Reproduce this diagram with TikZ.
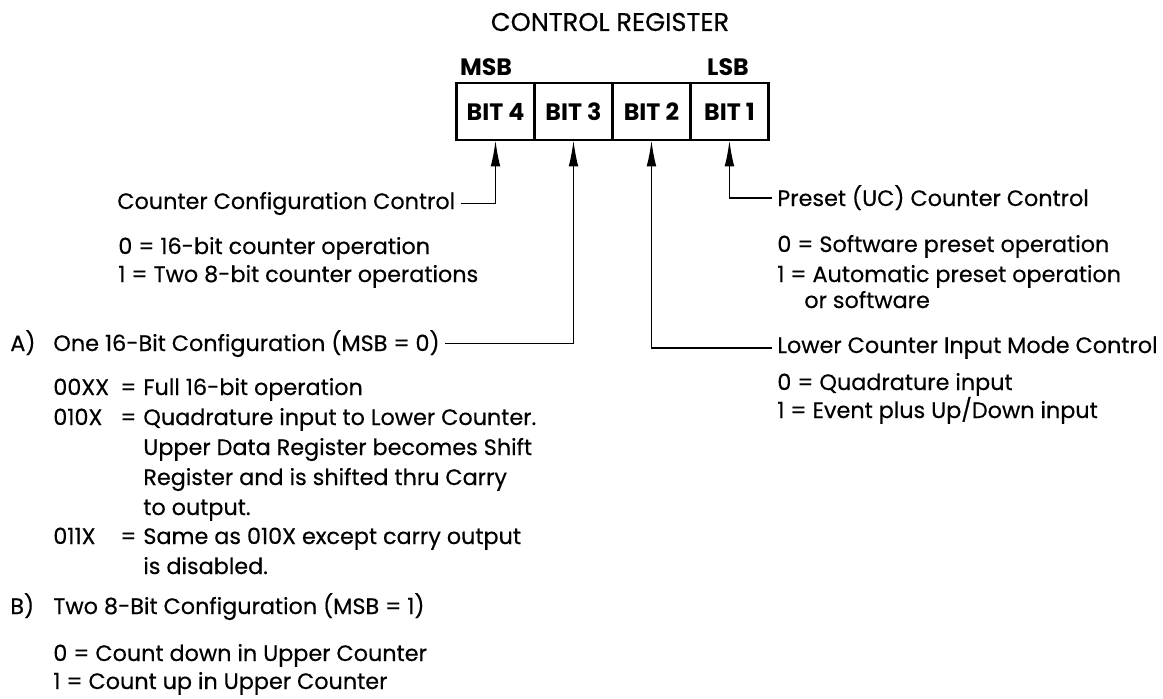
\documentclass[tikz,border=0pt]{standalone}
\usepackage{fontspec}
\setmainfont{Poppins}[UprightFeatures={FakeBold=0.4}]
\usetikzlibrary{arrows.meta,positioning}

\newcommand\regfont{\fontsize{12.7pt}{15pt}\selectfont}
\newcommand\headfont{\fontsize{14.6pt}{17pt}\selectfont}
\newcommand\bitfont{\fontsize{13.5pt}{16pt}\selectfont\bfseries}

\begin{document}
\begin{tikzpicture}[x=0.02cm,y=-0.02cm,node distance=0pt,
    txt/.style={anchor=base west,inner sep=0pt,font=\regfont},
    bitbox/.style={draw,line width=1.2pt,outer sep=0pt,minimum width=1.56cm,
      minimum height=1.14cm,font=\bitfont},
    arr/.style={line width=1pt,-{Latex[length=15pt,width=5.5pt]}}]
    \useasboundingbox (0,0) rectangle (1163,698);

    % register
    \node[font=\headfont] (title) at (610,22) {CONTROL REGISTER};
    \node[bitbox] (b4) at (495.5,111.5) {BIT 4};
    \node[bitbox,right=of b4] (b3) {BIT 3};
    \node[bitbox,right=of b3] (b2) {BIT 2};
    \node[bitbox,right=of b2] (b1) {BIT 1};
    \node[font=\bitfont] (msb) at (486,67) {MSB};
    \node[font=\bitfont] (lsb) at (728,67) {LSB};

    % bit 4
    \node[txt] (cfg) at (117,209) {Counter Configuration Control};
    \node[txt] (cfg0) at (118,254) {0 = 16-bit counter operation};
    \node[txt] (cfg1) at (118,282) {1 = Two 8-bit counter operations};

    % bit 3
    \node[txt] (la) at (10,351) {A)};
    \node[txt] (cfga) at (53,351) {One 16-Bit Configuration (MSB = 0)};
    \node[txt] (ca) at (53,395) {00XX};
    \node[txt] (cb) at (53,425) {010X};
    \node[txt] (cc) at (53,544) {011X};
    \node[txt] (ea) at (120,395) {=};
    \node[txt] (eb) at (120,425) {=};
    \node[txt] (ec) at (120,544) {=};
    \node[txt] (da) at (143,395) {Full 16-bit operation};
    \node[txt] (db1) at (143,425) {Quadrature input to Lower Counter.};
    \node[txt] (db2) at (143,455) {Upper Data Register becomes Shift};
    \node[txt] (db3) at (143,485) {Register and is shifted thru Carry};
    \node[txt] (db4) at (143,515) {to output.};
    \node[txt] (dc1) at (143,544) {Same as 010X except carry output};
    \node[txt] (dc2) at (143,574) {is disabled.};
    \node[txt] (lb) at (10,614) {B)};
    \node[txt] (cfgb) at (53,614) {Two 8-Bit Configuration (MSB = 1)};
    \node[txt] (up0) at (53,661) {0 = Count down in Upper Counter};
    \node[txt] (up1) at (53,689) {1 = Count up in Upper Counter};

    % bit 1
    \node[txt] (preset) at (777,206) {Preset (UC) Counter Control};
    \node[txt] (pre0) at (777,252) {0 = Software preset operation};
    \node[txt] (pre1) at (777,282) {1 = Automatic preset operation};
    \node[txt] (pre2) at (804,308) {or software};

    % bit 2
    \node[txt] (lower) at (777,353) {Lower Counter Input Mode Control};
    \node[txt] (low0) at (777,390) {0 = Quadrature input};
    \node[txt] (low1) at (777,418) {1 = Event plus Up/Down input};

    \draw[arr] ([xshift=3pt]cfg.east) -| (b4.south);
    \draw[arr] ([xshift=3pt]cfga.east) -| (b3.south);
    \draw[arr] ([xshift=-3pt]lower.west) -| (b2.south);
    \draw[arr] ([xshift=-3pt]preset.west) -| (b1.south);
\end{tikzpicture}
\end{document}
